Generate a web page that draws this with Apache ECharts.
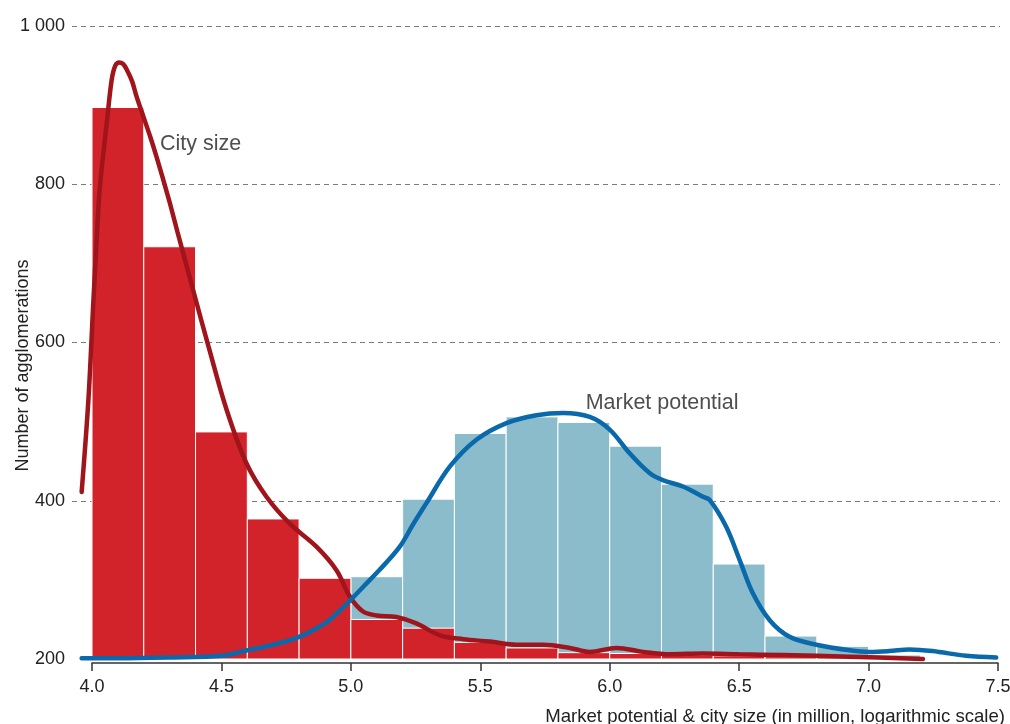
<!DOCTYPE html>
<html>
<head>
<meta charset="utf-8">
<script src="https://cdn.jsdelivr.net/npm/echarts@6/dist/echarts.min.js"></script>
<style>html,body{margin:0;padding:0;background:#fff}#c{width:1010px;height:724px}</style>
</head>
<body>
<div id="c"></div>
<script>
// ---- data ----
const binStarts = [4.0, 4.2, 4.4, 4.6, 4.8, 5.0, 5.2, 5.4, 5.6, 5.8, 6.0, 6.2, 6.4, 6.6, 6.8, 7.0];
const binWidth = 0.2;
const cityCounts   = [897, 721, 487, 377, 302, 250, 239, 221, 214, 208, 207, 205, 204, 203, 202, 201];
const marketCounts = [null, null, null, null, null, 304, 402, 485, 506, 499, 469, 421, 320, 229, 216, 205];

const cityCurve = [
  [3.96, 411], [3.986, 527], [4.005, 650], [4.018, 730], [4.03, 795], [4.057, 877], [4.076, 932],
  [4.09, 950], [4.105, 954], [4.12, 952], [4.134, 945], [4.155, 930], [4.172, 911], [4.198, 886],
  [4.225, 860], [4.249, 835], [4.275, 806], [4.301, 776], [4.33, 740], [4.4, 655], [4.45, 595],
  [4.52, 515], [4.597, 447], [4.674, 405], [4.764, 371], [4.867, 342], [4.945, 312], [4.996, 279],
  [5.047, 260], [5.1, 255], [5.176, 253], [5.253, 245], [5.344, 230], [5.434, 225], [5.537, 222],
  [5.64, 218], [5.743, 218], [5.846, 214], [5.923, 209], [6.026, 214], [6.129, 209], [6.232, 206],
  [6.36, 207], [6.5, 206], [6.668, 205], [6.927, 203], [7.21, 200]
];
const marketCurve = [
  [3.96, 201], [4.1, 201], [4.3, 202], [4.5, 204], [4.6, 211], [4.7, 218], [4.8, 228], [4.9, 245],
  [4.96, 262], [5.0, 275], [5.05, 292], [5.112, 313], [5.189, 342], [5.24, 370], [5.292, 397],
  [5.382, 443], [5.485, 477], [5.601, 498], [5.717, 508], [5.82, 511], [5.923, 506], [6.0, 490],
  [6.077, 460], [6.154, 435], [6.205, 426], [6.283, 418], [6.36, 405], [6.386, 401], [6.45, 367],
  [6.502, 325], [6.553, 283], [6.618, 249], [6.695, 228], [6.798, 218], [6.927, 211], [7.004, 209],
  [7.08, 210], [7.158, 212], [7.247, 210], [7.377, 204], [7.493, 202]
];
const labels = [
  { text: 'City size', x: 4.2625, y: 851 },
  { text: 'Market potential', x: 5.907, y: 524 }
];
const yTicks = { min: 200, max: 1000, step: 200 };
const xTicks = { min: 4.0, max: 7.5, step: 0.5 };

// ---- chart ----
const FONT = '"Liberation Sans", Arial, Helvetica, sans-serif';
const TXT = '#222222';
const RED_BAR = '#d2232b', BLUE_BAR = '#8bbccb', RED_LINE = '#a0141b', BLUE_LINE = '#0a69aa';

// plot area geometry: visible x axis spans 92..998 px; gridlines run 72..1000 px
const AX_LEFT = 92, AX_RIGHT = 12, GL_LEFT = 72, GL_RIGHT = 10;
const unitPerPx = (xTicks.max - xTicks.min) / (1010 - AX_LEFT - AX_RIGHT);
const innerMin = xTicks.min - (AX_LEFT - GL_LEFT) * unitPerPx;
const innerMax = xTicks.max + (AX_RIGHT - GL_RIGHT) * unitPerPx;

function barData(counts) {
  return binStarts.map((s, i) => counts[i] == null ? null : [s, +(s + binWidth).toFixed(2), counts[i]])
                  .filter(d => d);
}
function renderBar(color) {
  return function (params, api) {
    const p0 = api.coord([api.value(0), api.value(2)]);
    const p1 = api.coord([api.value(1), yTicks.min]);
    return {
      type: 'rect',
      shape: { x: p0[0], y: p0[1], width: p1[0] - p0[0], height: p1[1] - p0[1] },
      style: { fill: color, stroke: '#ffffff', lineWidth: 1 }
    };
  };
}

const chart = echarts.init(document.getElementById('c'), null, { renderer: 'canvas' });
chart.setOption({
  animation: false,
  textStyle: { fontFamily: FONT },
  grid: [
    { left: AX_LEFT, right: AX_RIGHT, top: 26, bottom: 65, outerBoundsMode: 'none', containLabel: false },
    { left: GL_LEFT, right: GL_RIGHT, top: 26, bottom: 65, outerBoundsMode: 'none', containLabel: false }
  ],
  xAxis: [
    {
      type: 'value', gridIndex: 0, min: xTicks.min, max: xTicks.max, interval: xTicks.step,
      offset: 4,
      axisLine: { show: true, lineStyle: { color: '#333', width: 1.5 } },
      axisTick: { show: true, length: 8, lineStyle: { color: '#333', width: 1.5 } },
      axisLabel: { color: TXT, fontSize: 18, margin: 15, formatter: v => v.toFixed(1), fontFamily: FONT },
      splitLine: { show: false },
      name: 'Market potential & city size (in million, logarithmic scale)',
      nameLocation: 'end', nameGap: 7, nameMoveOverlap: false,
      nameTextStyle: { color: TXT, fontSize: 18.6, align: 'right', verticalAlign: 'top', padding: [44, 0, 0, 0], fontFamily: FONT }
    },
    { type: 'value', gridIndex: 1, min: innerMin, max: innerMax, show: false }
  ],
  yAxis: [
    { type: 'value', gridIndex: 0, min: yTicks.min, max: yTicks.max, interval: yTicks.step, show: false },
    {
      type: 'value', gridIndex: 1, min: yTicks.min, max: yTicks.max, interval: yTicks.step,
      axisLine: { show: false }, axisTick: { show: false },
      axisLabel: { color: TXT, fontSize: 18, margin: 7, fontFamily: FONT,
        formatter: v => v >= 1000 ? Math.floor(v / 1000) + ' ' + String(v % 1000).padStart(3, '0') : String(v) },
      splitLine: { show: true, showMinLine: false, lineStyle: { color: '#7a7a7a', type: [5, 4], width: 1 } },
      name: 'Number of agglomerations', nameLocation: 'middle', nameGap: 40, nameMoveOverlap: false,
      nameTextStyle: { color: TXT, fontSize: 18, padding: [0, 46, 0, 0], fontFamily: FONT }
    }
  ],
  series: [
    { type: 'custom', xAxisIndex: 1, yAxisIndex: 1, renderItem: renderBar(BLUE_BAR),
      encode: { x: [0, 1], y: 2 }, data: barData(marketCounts), z: 1 },
    { type: 'custom', xAxisIndex: 1, yAxisIndex: 1, renderItem: renderBar(RED_BAR),
      encode: { x: [0, 1], y: 2 }, data: barData(cityCounts), z: 2 },
    { type: 'line', xAxisIndex: 1, yAxisIndex: 1, data: cityCurve, smooth: 0.35, showSymbol: false,
      clip: false, lineStyle: { color: RED_LINE, width: 4.5, cap: 'round' }, z: 3 },
    { type: 'line', xAxisIndex: 1, yAxisIndex: 1, data: marketCurve, smooth: 0.35, showSymbol: false,
      clip: false, lineStyle: { color: BLUE_LINE, width: 4.5, cap: 'round' }, z: 4 },
    { type: 'scatter', xAxisIndex: 1, yAxisIndex: 1, symbolSize: 0, z: 5,
      data: labels.map(l => ({ value: [l.x, l.y], name: l.text })),
      label: { show: true, position: 'right', distance: 0, formatter: p => p.name,
        color: TXT, fontSize: 21.5, fontFamily: FONT } }
  ]
});
</script>
</body>
</html>
